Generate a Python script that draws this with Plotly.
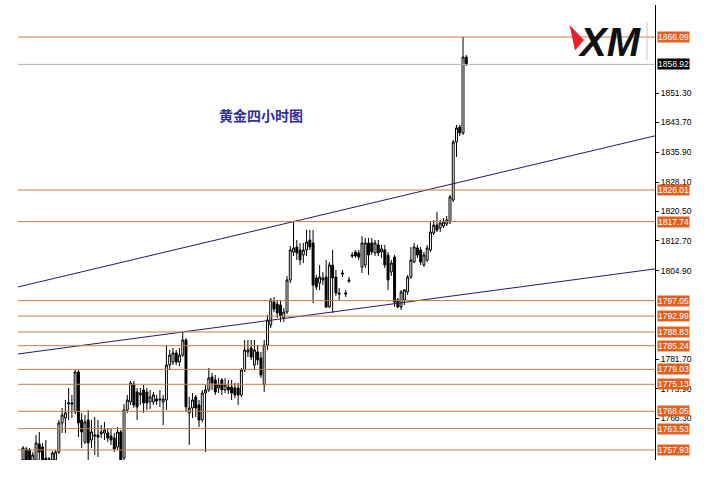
import plotly.graph_objects as go

# ---- OHLC data (4-hour gold candles) ----
opens = [
    1755.31, 1758.19, 1757.93, 1754.00, 1755.31, 1759.50, 1758.71, 1755.83, 1755.31, 1755.31,
    1755.31, 1757.40, 1765.00, 1766.31, 1769.97, 1770.24, 1767.88, 1778.35, 1765.78, 1760.02,
    1765.78, 1760.54, 1761.85, 1761.85, 1762.12, 1762.38, 1762.38, 1761.59, 1761.07, 1758.71,
    1762.64, 1755.83, 1768.40, 1770.50, 1775.21, 1773.12, 1772.33, 1773.64, 1773.12, 1770.50,
    1770.50, 1771.28, 1771.02, 1770.50, 1771.02, 1780.19, 1780.97, 1783.33, 1780.97, 1782.80,
    1786.73, 1767.62, 1768.93, 1771.81, 1769.71, 1765.78, 1772.85, 1773.64, 1777.05, 1776.26,
    1774.16, 1776.26, 1773.64, 1774.43, 1774.43, 1774.16, 1774.16, 1772.33, 1778.88, 1783.59,
    1784.64, 1780.19, 1783.59, 1782.02, 1774.95, 1785.42, 1790.66, 1796.69, 1796.16, 1795.90,
    1792.50, 1794.07, 1802.45, 1809.78, 1811.09, 1810.31, 1809.00, 1810.31, 1812.92, 1812.14,
    1802.97, 1801.66, 1802.45, 1803.23, 1795.38, 1806.38, 1803.23, 1799.05, 1804.28, 1799.05,
    1802.45, 1809.00, 1809.78, 1809.52, 1805.85, 1806.38, 1812.14, 1812.14, 1809.52, 1811.62,
    1809.78, 1810.31, 1809.00, 1804.54, 1808.47, 1797.21, 1795.38, 1797.21, 1799.31, 1803.23,
    1807.16, 1810.83, 1810.31, 1806.38, 1807.69, 1810.31, 1814.76, 1816.85, 1816.07, 1816.59,
    1817.11, 1817.64, 1823.40, 1838.59, 1842.52, 1840.95, 1860.85,
]
highs = [
    1758.97, 1758.71, 1758.45, 1757.40, 1761.85, 1762.64, 1759.76, 1760.54, 1756.09, 1757.66,
    1757.93, 1765.78, 1768.93, 1771.02, 1774.16, 1772.33, 1778.88, 1778.88, 1767.62, 1767.09,
    1768.40, 1765.78, 1766.57, 1765.78, 1764.47, 1765.26, 1763.69, 1763.69, 1762.38, 1763.95,
    1763.16, 1769.97, 1772.33, 1776.00, 1776.00, 1774.16, 1774.16, 1774.95, 1774.16, 1773.64,
    1773.12, 1772.33, 1773.64, 1772.33, 1785.42, 1784.12, 1784.64, 1784.12, 1784.64, 1788.83,
    1787.26, 1771.81, 1772.85, 1772.33, 1771.02, 1773.64, 1774.95, 1779.40, 1778.09, 1777.57,
    1776.78, 1776.78, 1776.78, 1776.26, 1776.26, 1775.47, 1775.47, 1779.40, 1786.73, 1786.73,
    1786.73, 1786.73, 1785.42, 1783.59, 1786.73, 1793.28, 1797.73, 1798.00, 1797.21, 1797.21,
    1795.12, 1803.50, 1811.35, 1817.74, 1812.92, 1812.14, 1812.14, 1815.54, 1815.54, 1815.54,
    1803.76, 1806.38, 1804.54, 1807.69, 1807.16, 1810.31, 1805.07, 1800.35, 1805.07, 1799.83,
    1803.23, 1809.78, 1810.31, 1810.31, 1813.97, 1813.45, 1813.45, 1813.45, 1812.92, 1812.92,
    1811.62, 1811.62, 1809.78, 1807.69, 1809.00, 1797.73, 1799.83, 1800.09, 1803.76, 1811.09,
    1812.14, 1811.62, 1811.09, 1809.78, 1811.62, 1817.64, 1818.16, 1820.26, 1818.16, 1818.69,
    1819.21, 1824.71, 1839.11, 1843.04, 1843.04, 1866.09, 1861.38,
]
lows = [
    1754.00, 1753.74, 1753.74, 1753.21, 1754.78, 1755.31, 1754.00, 1754.52, 1754.78, 1755.05,
    1754.78, 1756.88, 1762.38, 1762.38, 1765.78, 1766.31, 1767.35, 1761.33, 1758.45, 1759.50,
    1755.31, 1758.45, 1756.62, 1756.09, 1761.07, 1760.54, 1760.02, 1759.24, 1757.40, 1757.93,
    1753.21, 1754.78, 1767.62, 1769.71, 1768.93, 1765.78, 1769.71, 1767.62, 1768.40, 1768.66,
    1769.71, 1769.71, 1769.19, 1764.47, 1768.40, 1778.88, 1780.19, 1780.19, 1779.92, 1782.28,
    1767.88, 1759.24, 1766.31, 1766.57, 1763.95, 1765.26, 1757.40, 1773.12, 1773.64, 1772.33,
    1772.85, 1772.33, 1772.85, 1772.59, 1771.02, 1771.55, 1769.71, 1771.81, 1778.35, 1782.28,
    1781.50, 1778.88, 1780.19, 1776.78, 1773.12, 1784.12, 1789.88, 1794.07, 1792.50, 1791.45,
    1791.45, 1793.55, 1801.66, 1808.73, 1807.69, 1806.38, 1806.90, 1808.73, 1810.31, 1796.43,
    1799.83, 1799.83, 1801.14, 1795.12, 1795.12, 1793.81, 1798.26, 1797.21, 1803.23, 1798.00,
    1801.66, 1808.21, 1808.21, 1807.69, 1804.28, 1805.59, 1803.76, 1809.00, 1808.73, 1808.73,
    1808.21, 1805.59, 1799.83, 1803.50, 1795.38, 1795.12, 1794.59, 1795.90, 1798.52, 1802.71,
    1806.90, 1808.21, 1806.38, 1805.85, 1807.16, 1809.78, 1814.23, 1815.02, 1815.02, 1816.07,
    1816.59, 1817.11, 1822.88, 1834.66, 1840.16, 1840.42, 1858.49,
]
closes = [
    1758.45, 1755.31, 1754.52, 1756.62, 1759.76, 1757.40, 1755.31, 1755.05, 1755.57, 1757.14,
    1757.40, 1765.00, 1767.09, 1767.62, 1770.24, 1769.97, 1778.35, 1765.00, 1762.64, 1765.26,
    1759.76, 1762.64, 1761.59, 1761.33, 1762.64, 1763.16, 1761.07, 1760.54, 1758.19, 1762.64,
    1755.31, 1768.40, 1771.02, 1775.47, 1769.71, 1769.19, 1772.85, 1770.24, 1770.24, 1771.81,
    1772.33, 1770.76, 1771.28, 1771.28, 1780.19, 1782.80, 1783.33, 1780.97, 1782.80, 1786.73,
    1769.19, 1768.93, 1771.02, 1768.93, 1765.78, 1772.85, 1773.64, 1776.78, 1775.47, 1773.12,
    1774.95, 1773.64, 1774.95, 1773.64, 1772.85, 1772.33, 1772.33, 1778.88, 1784.12, 1784.12,
    1782.28, 1784.12, 1781.50, 1777.57, 1785.42, 1791.97, 1797.21, 1794.85, 1793.81, 1793.02,
    1794.07, 1802.45, 1810.31, 1810.83, 1809.52, 1807.69, 1810.31, 1812.40, 1811.09, 1801.14,
    1800.62, 1803.23, 1802.97, 1795.38, 1806.38, 1802.97, 1799.05, 1798.78, 1804.02, 1798.78,
    1802.19, 1808.73, 1808.73, 1808.47, 1812.14, 1812.14, 1809.00, 1809.78, 1812.14, 1809.52,
    1810.57, 1806.38, 1802.45, 1806.90, 1796.69, 1795.38, 1799.31, 1799.83, 1803.23, 1807.69,
    1811.09, 1809.00, 1807.16, 1809.00, 1810.83, 1815.02, 1816.85, 1815.54, 1817.38, 1817.64,
    1818.16, 1824.19, 1838.59, 1842.26, 1840.95, 1860.85, 1858.92,
]

# ---- horizontal support/resistance levels and labels ----
levels = [1866.09, 1826.01, 1817.74, 1797.05, 1792.99, 1788.83,
          1785.24, 1779.03, 1775.13, 1768.05, 1763.53, 1757.93]
level_labels = ["1866.09", "1826.01", "1817.74", "1797.05", "1792.99", "1788.83",
                "1785.24", "1779.03", "1775.13", "1768.05", "1763.53", "1757.93"]
current_price = 1858.92
current_label = "1858.92"

# ---- y-axis ticks ----
tick_vals = [1851.30, 1843.70, 1835.90, 1828.10, 1820.50, 1812.70, 1804.90,
             1781.70, 1773.90, 1766.30]
tick_text = ["1851.30", "1843.70", "1835.90", "1828.10", "1820.50", "1812.70", "1804.90",
             "1781.70", "1773.90", "1766.30"]

# ---- trend-line end points (bar index, price) ----
upper_trend_x = [-1.53, 193.9]
upper_trend_y = [1800.62, 1840.20]
lower_trend_x = [-1.53, 193.9]
lower_trend_y = [1783.07, 1805.35]

title_text = "黄金四小时图"
logo_text = "XM"

idx = list(range(len(opens)))
X_MIN, X_MAX = -7.06, 193.9
LINE_START = -1.53
LEVEL_COLOR = "#d2773f"
LABEL_BG = "#e2601f"
LABEL_FONT = dict(family="Liberation Sans", size=8.5, color="white")

fig = go.Figure()

fig.add_trace(go.Candlestick(
    x=idx, open=opens, high=highs, low=lows, close=closes,
    increasing=dict(line=dict(color="black", width=1), fillcolor="white"),
    decreasing=dict(line=dict(color="black", width=1), fillcolor="black"),
    whiskerwidth=0, showlegend=False, hoverinfo="skip",
))

for tx, ty in [(upper_trend_x, upper_trend_y), (lower_trend_x, lower_trend_y)]:
    fig.add_trace(go.Scatter(x=tx, y=ty, mode="lines",
                             line=dict(color="#1c1c6e", width=1),
                             showlegend=False, hoverinfo="skip"))

# current price line
fig.add_shape(type="line", xref="x", yref="y", x0=LINE_START, x1=X_MAX,
              y0=current_price, y1=current_price,
              line=dict(color="#b4b4b4", width=1))

for lv in levels:
    fig.add_shape(type="line", xref="x", yref="y", x0=LINE_START, x1=X_MAX,
                  y0=lv, y1=lv, line=dict(color=LEVEL_COLOR, width=1))

for lv, lab in zip(levels, level_labels):
    fig.add_annotation(x=1, xref="paper", y=lv, yref="y", xanchor="left", yanchor="middle",
                       xshift=2, text=lab, showarrow=False, font=LABEL_FONT,
                       bgcolor=LABEL_BG, borderpad=0)

fig.add_annotation(x=1, xref="paper", y=current_price, yref="y", xanchor="left",
                   yanchor="middle", xshift=2, text=current_label, showarrow=False,
                   font=LABEL_FONT, bgcolor="black", borderpad=0)

# title
fig.add_annotation(x=0.398, y=0.758, xref="paper", yref="paper", xanchor="center",
                   yanchor="middle", text="<b>" + title_text + "</b>", showarrow=False,
                   font=dict(family="Noto Sans CJK SC", size=14, color="#2e2ea0"))

# XM logo
fig.add_annotation(x=0.931, y=0.919, xref="paper", yref="paper", xanchor="center",
                   yanchor="middle", text="<b><i>" + logo_text + "</i></b>", showarrow=False,
                   font=dict(family="Liberation Sans", size=40, color="#111111"))
fig.add_shape(type="path", xref="paper", yref="paper",
              path="M 0.8695 0.9560 L 0.8779 0.9000 L 0.8916 0.9231 Z",
              fillcolor="#e8202a", line=dict(width=0))
fig.add_shape(type="line", xref="paper", yref="paper", x0=0.9878, x1=0.9878,
              y0=0.879, y1=0.9626, line=dict(color="#c8c8c8", width=1))

fig.update_layout(
    width=715, height=481,
    margin=dict(l=0, r=60, t=5, b=21),
    paper_bgcolor="white", plot_bgcolor="white",
    boxgap=0.15,
    xaxis=dict(range=[X_MIN, X_MAX], visible=False, rangeslider=dict(visible=False)),
    yaxis=dict(range=[1755.30, 1874.47], side="right", showgrid=False, zeroline=False,
               showline=True, linecolor="black", linewidth=1, mirror=False,
               ticks="outside", ticklen=3, tickcolor="black",
               tickvals=tick_vals, ticktext=tick_text,
               tickfont=dict(family="Liberation Sans", size=8.5, color="black")),
)

fig.write_html("out.html", config={"displayModeBar": False},
               post_script="document.body.style.margin='0';document.body.style.overflow='hidden';")
